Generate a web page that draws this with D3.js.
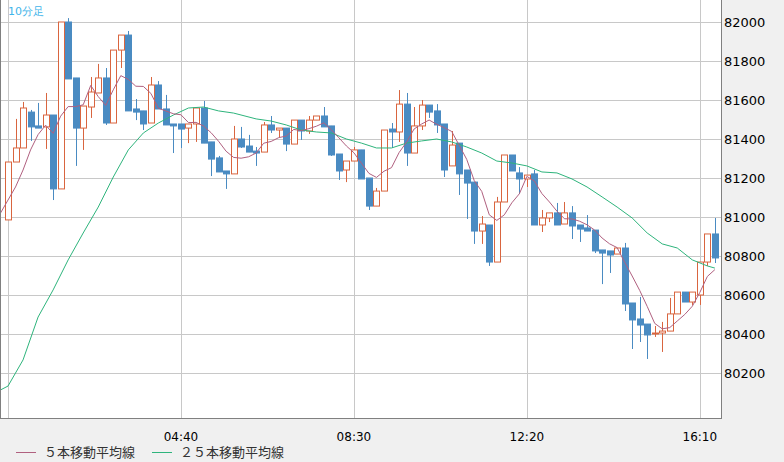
<!DOCTYPE html>
<html><head><meta charset="utf-8">
<script src="https://cdn.jsdelivr.net/npm/d3@7"></script>
<style>body{margin:0;background:#f0f0f0}svg{display:block;font-family:"DejaVu Sans",sans-serif}</style>
</head><body><svg id="chart" width="784" height="462"></svg>
<script>
// 10-minute candles, first bar 00:50
const opens  = [80985,81282,81354,81538,81467,81462,81523,81144,82000,81713,81456,81564,81636,81713,81482,81856,81933,81554,81544,81482,81677,81554,81477,81477,81456,81477,81559,81385,81303,81236,81221,81400,81364,81338,81333,81472,81446,81456,81374,81497,81441,81497,81518,81467,81323,81241,81287,81344,81200,81056,81133,81451,81436,81579,81328,81467,81574,81544,81477,81262,81379,81241,81179,80928,80959,80769,81077,81318,81226,81195,81221,80959,80995,81021,80964,81021,80959,80944,80933,80831,80826,80810,80841,80559,80477,80451,80400,80405,80415,80503,80615,80564,80600,80769,80913];
const highs  = [81282,81503,81590,81549,81585,81636,81523,82000,82020,81713,81569,81718,81785,81764,81856,81933,81954,81605,81544,81718,81697,81626,81477,81477,81477,81559,81595,81385,81313,81236,81467,81462,81421,81359,81487,81518,81456,81456,81497,81497,81518,81518,81564,81467,81323,81287,81359,81344,81200,81149,81446,81482,81651,81636,81564,81600,81574,81579,81477,81441,81379,81241,81179,81005,80959,81103,81318,81318,81256,81215,81241,81036,81021,81072,81077,81056,80959,81010,80933,80831,80826,80841,80867,80559,80590,80451,80441,80462,80585,80615,80615,80615,80769,80913,80995];
const lows   = [80985,81282,81354,81390,81456,81349,81087,81144,81708,81262,81344,81508,81636,81472,81482,81764,81544,81497,81446,81482,81554,81472,81328,81354,81379,81385,81379,81210,81231,81144,81221,81354,81333,81262,81333,81431,81410,81338,81374,81395,81426,81497,81462,81313,81190,81179,81287,81195,81036,81056,81133,81354,81385,81262,81328,81446,81508,81431,81205,81262,81113,80990,80862,80862,80749,80769,81077,81236,81118,81154,80959,80923,80974,80959,80964,80887,80872,80928,80815,80656,80713,80810,80518,80323,80359,80272,80385,80308,80415,80503,80564,80549,80549,80749,80764];
const closes = [81282,81354,81559,81462,81456,81523,81144,82000,81708,81456,81569,81641,81713,81482,81856,81933,81544,81538,81477,81677,81554,81472,81467,81451,81477,81559,81379,81297,81231,81221,81400,81359,81333,81328,81472,81446,81456,81374,81497,81441,81497,81518,81462,81318,81236,81287,81344,81195,81056,81133,81446,81436,81579,81328,81467,81574,81538,81472,81241,81369,81221,81174,80928,80964,80769,81077,81318,81236,81195,81215,80959,80995,81021,80959,81021,80954,80938,80928,80826,80815,80805,80841,80554,80472,80446,80395,80405,80415,80503,80615,80564,80615,80769,80913,80790];
// 5-bar average for the first bars (needs earlier bars); index -1 first
const ma5Lead = [81020,81087,81154,81241,81344];
// 25-bar average: [bar index, value]
const ma25 = [[-1,80113],[0,80133],[2,80267],[4,80487],[6,80626],[8,80780],[10,80918],[12,81051],[14,81205],[16,81344],[18,81431],[20,81482],[22,81523],[24,81559],[26,81564],[28,81544],[30,81533],[33,81503],[35,81492],[37,81472],[39,81446],[41,81436],[43,81431],[45,81400],[47,81379],[49,81354],[51,81354],[53,81379],[55,81390],[57,81400],[59,81385],[61,81359],[63,81328],[65,81287],[67,81277],[69,81262],[71,81231],[73,81226],[75,81195],[77,81154],[79,81103],[81,81051],[83,80995],[85,80918],[87,80862],[89,80841],[91,80780],[93,80749],[94,80738]];
const yTicks = [80200,80400,80600,80800,81000,81200,81400,81600,81800,82000];
const xTicks = [[manIdx(4,40),"04:40"],[manIdx(8,30),"08:30"],[manIdx(12,20),"12:20"],[manIdx(16,10),"16:10"]];
function manIdx(h,m){ return (h*60+m-50)/10; }

const ma5 = [[-1,ma5Lead[0]]].concat(closes.map((c,i)=> [i, i<4 ? ma5Lead[i+1] : d3.mean(closes.slice(i-4,i+1))]));

const svg = d3.select("#chart");
const L = 1, R = 721, T = 0, B = 418;
const x = d3.scaleLinear().domain([0,1]).range([8,15.52]);
const y = d3.scaleLinear().domain([80000,82000]).range([22+39*10,22]);

svg.append("rect").attr("x",L).attr("y",T).attr("width",R-L).attr("height",B-T).attr("fill","#fff");
svg.append("clipPath").attr("id","clip").append("rect").attr("x",L).attr("y",T).attr("width",R-L).attr("height",B-T);

svg.selectAll(".hg").data(yTicks).join("line")
  .attr("x1",L).attr("x2",R).attr("y1",d=>Math.round(y(d))+0.5).attr("y2",d=>Math.round(y(d))+0.5)
  .attr("stroke","#c8c8c8");
svg.selectAll(".vg").data([0,...xTicks.map(d=>d[0])]).join("line")
  .attr("y1",T).attr("y2",B).attr("x1",d=>Math.round(x(d))+0.5).attr("x2",d=>Math.round(x(d))+0.5)
  .attr("stroke","#c8c8c8");

const g = svg.append("g").attr("clip-path","url(#clip)");
const idx = d3.range(closes.length);
g.selectAll(".wick").data(idx).join("line")
  .attr("x1",i=>Math.round(x(i))+0.5).attr("x2",i=>Math.round(x(i))+0.5)
  .attr("y1",i=>y(highs[i])).attr("y2",i=>y(lows[i]))
  .attr("stroke",i=>closes[i]>=opens[i]?"#d9653f":"#4a8bc2");
g.selectAll(".body").data(idx).join("rect")
  .attr("x",i=>Math.round(x(i))-2.5).attr("width",6)
  .attr("y",i=>y(Math.max(opens[i],closes[i])))
  .attr("height",i=>Math.max(1,Math.abs(y(opens[i])-y(closes[i]))))
  .attr("fill",i=>closes[i]>=opens[i]?"#fff":"#4a8bc2")
  .attr("stroke",i=>closes[i]>=opens[i]?"#d9653f":"#4a8bc2");

g.append("path").datum(ma25)
  .attr("d",d3.line().x(d=>x(d[0])).y(d=>y(d[1])))
  .attr("fill","none").attr("stroke","#2eb47c").attr("stroke-width",1);
g.append("path").datum(ma5)
  .attr("d",d3.line().x(d=>x(d[0])).y(d=>y(d[1])))
  .attr("fill","none").attr("stroke","#b0607f").attr("stroke-width",1);

svg.append("rect").attr("x",L-0.5).attr("y",T-0.5).attr("width",R-L+1).attr("height",B-T+1)
  .attr("fill","none").attr("stroke","#808080");

svg.selectAll(".yl").data(yTicks).join("text")
  .attr("x",724).attr("y",d=>y(d)+5).attr("font-size",13).attr("fill","#000").text(d=>d);
svg.selectAll(".xl").data(xTicks).join("text")
  .attr("x",d=>x(d[0])).attr("y",441).attr("text-anchor","middle").attr("font-size",12).text(d=>d[1]);

svg.append("text").attr("x",8).attr("y",15).attr("font-size",11).attr("fill","#3fb4ea").text("10分足");

const legend = [["５本移動平均線","#b0607f",16],["２５本移動平均線","#2eb47c",152]];
legend.forEach(([t,c,lx])=>{
  svg.append("line").attr("x1",lx).attr("x2",lx+20).attr("y1",452.5).attr("y2",452.5).attr("stroke",c);
  svg.append("text").attr("x",lx+28).attr("y",457).attr("font-size",13)
    .attr("font-family","'Noto Sans CJK JP',sans-serif").attr("fill","#333").text(t);
});
</script></body></html>
